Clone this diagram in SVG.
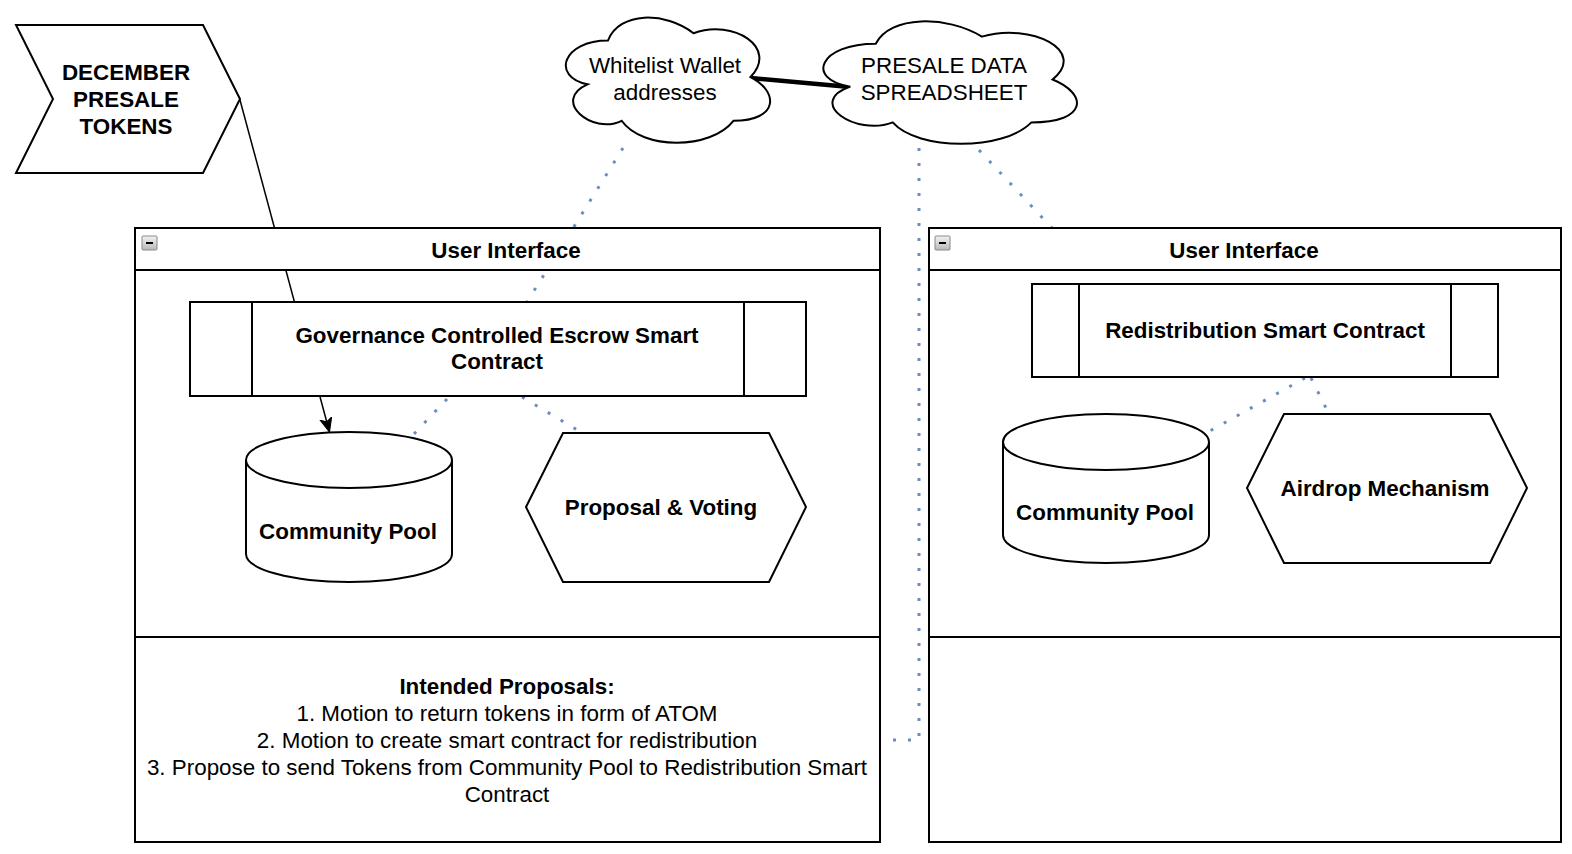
<svg xmlns="http://www.w3.org/2000/svg" width="1572" height="854" viewBox="0 0 1572 854">
  <style>
    .shape { fill: #ffffff; stroke: #000000; stroke-width: 2; }
    .frame { fill: none; stroke: #000000; stroke-width: 2; }
    .hdr { fill: #ffffff; stroke: #000000; stroke-width: 2; }
    .sep { stroke: #000000; stroke-width: 2; fill: none; }
    .t { font-family: "Liberation Sans", Arial, Helvetica, sans-serif; font-size: 22.4px; fill: #000000; text-anchor: middle; }
    .b { font-weight: bold; }
    .dot { fill: none; stroke: #6c8ebf; stroke-width: 3; stroke-dasharray: 3 12; }
    .arrow { fill: none; stroke: #000000; stroke-width: 1.5; }
    .thick { fill: none; stroke: #000000; stroke-width: 4.5; }
  </style>
  <defs>
    <marker id="classic" markerUnits="userSpaceOnUse" markerWidth="16" markerHeight="14" refX="14" refY="6" orient="auto">
      <path d="M0,0 L14,6 L0,12 L3.5,6 Z" fill="#000000" stroke="#000000" stroke-width="1"/>
    </marker>
    <linearGradient id="minusGrad" x1="0" y1="0" x2="0" y2="1">
      <stop offset="0" stop-color="#f2f2f2"/>
      <stop offset="1" stop-color="#b8b8b8"/>
    </linearGradient>
    <g id="minusIcon">
      <rect x="0" y="0" width="15" height="14" rx="1" fill="url(#minusGrad)" stroke="#8a8a8a" stroke-width="1"/>
      <line x1="4" y1="7" x2="11" y2="7" stroke="#000000" stroke-width="2"/>
    </g>
  </defs>

  <rect width="1572" height="854" fill="#ffffff"/>

  <!-- connectors -->
  <g id="connectors">
    <line class="arrow" x1="240" y1="100" x2="329.5" y2="432" marker-end="url(#classic)"/>
    <line class="thick" x1="751" y1="78" x2="850" y2="87"/>
    <line class="dot" x1="623" y1="148" x2="527" y2="302"/>
    <line class="dot" x1="447" y1="399" x2="412" y2="436"/>
    <line class="dot" x1="522" y1="397" x2="579" y2="431"/>
    <polyline class="dot" points="919,148 919,740 880,740"/>
    <line class="dot" x1="979" y1="150" x2="1052" y2="228"/>
    <line class="dot" x1="1305" y1="378" x2="1208" y2="432"/>
    <line class="dot" x1="1311" y1="378" x2="1329" y2="414"/>
  </g>

  <!-- December presale tokens -->
  <g id="december-presale">
    <polygon class="shape" points="16,25 203,25 240,99 203,173 16,173 53,99"/>
    <text class="t b" x="126" y="80">DECEMBER</text>
    <text class="t b" x="126" y="107">PRESALE</text>
    <text class="t b" x="126" y="134">TOKENS</text>
  </g>

  <!-- Whitelist cloud -->
  <g id="whitelist-cloud">
    <path class="shape" d="M608,40.5 C562.4,40.5 551,77 587.5,84.3 C551,100.4 592,135.4 621.7,120.8 C642.2,150 710.6,150 733.4,120.8 C779,120.8 779,91.6 750.5,77 C779,47.8 733.4,18.6 693.5,33.2 C665,11.3 619.4,11.3 608,40.5 Z"/>
    <text class="t" x="665" y="73">Whitelist Wallet</text>
    <text class="t" x="665" y="100">addresses</text>
  </g>

  <!-- Presale data cloud -->
  <g id="presale-data-cloud">
    <path class="shape" d="M875.75,43.75 C819.15,43.75 805,79.5 850.3,86.65 C805,102.4 855.9,136.7 892.7,122.4 C918.2,151 1003.1,151 1031.4,122.4 C1088,122.4 1088,93.8 1052.6,79.5 C1088,50.9 1031.4,22.3 981.9,36.6 C946.5,15.15 889.9,15.15 875.75,43.75 Z"/>
    <text class="t" x="944" y="73">PRESALE DATA</text>
    <text class="t" x="944" y="100">SPREADSHEET</text>
  </g>

  <!-- Left container -->
  <g id="left-user-interface">
    <rect class="frame" x="135" y="228" width="745" height="614"/>
    <rect class="hdr" x="135" y="228" width="745" height="42"/>
    <line class="sep" x1="135" y1="637" x2="880" y2="637"/>
    <use href="#minusIcon" x="142" y="236"/>
    <text class="t b" x="506" y="258">User Interface</text>
    <text class="t b" x="507" y="694">Intended Proposals:</text>
    <text class="t" x="507" y="721">1. Motion to return tokens in form of ATOM</text>
    <text class="t" x="507" y="748">2. Motion to create smart contract for redistribution</text>
    <text class="t" x="507" y="775">3. Propose to send Tokens from Community Pool to Redistribution Smart</text>
    <text class="t" x="507" y="802">Contract</text>
  </g>

  <g id="governance-escrow">
    <rect class="shape" x="190" y="302" width="616" height="94"/>
    <line class="sep" x1="252" y1="302" x2="252" y2="396"/>
    <line class="sep" x1="744" y1="302" x2="744" y2="396"/>
    <text class="t b" x="497" y="343">Governance Controlled Escrow Smart</text>
    <text class="t b" x="497" y="369">Contract</text>
  </g>

  <g id="left-community-pool">
    <path class="shape" d="M246,460 A103,28 0 0 1 452,460 L452,554 A103,28 0 0 1 246,554 Z"/>
    <path class="frame" d="M246,460 A103,28 0 0 0 452,460"/>
    <text class="t b" x="348" y="539">Community Pool</text>
  </g>

  <g id="proposal-voting">
    <polygon class="shape" points="526,507 563,433 769,433 806,507 769,582 563,582"/>
    <text class="t b" x="661" y="515">Proposal &amp; Voting</text>
  </g>

  <!-- Right container -->
  <g id="right-user-interface">
    <rect class="frame" x="929" y="228" width="632" height="614"/>
    <rect class="hdr" x="929" y="228" width="632" height="42"/>
    <line class="sep" x1="929" y1="637" x2="1561" y2="637"/>
    <use href="#minusIcon" x="935" y="236"/>
    <text class="t b" x="1244" y="258">User Interface</text>
  </g>

  <g id="redistribution-contract">
    <rect class="shape" x="1032" y="284" width="466" height="93"/>
    <line class="sep" x1="1079" y1="284" x2="1079" y2="377"/>
    <line class="sep" x1="1451" y1="284" x2="1451" y2="377"/>
    <text class="t b" x="1265" y="338">Redistribution Smart Contract</text>
  </g>

  <g id="right-community-pool">
    <path class="shape" d="M1003,442 A103,28 0 0 1 1209,442 L1209,535 A103,28 0 0 1 1003,535 Z"/>
    <path class="frame" d="M1003,442 A103,28 0 0 0 1209,442"/>
    <text class="t b" x="1105" y="520">Community Pool</text>
  </g>

  <g id="airdrop-mechanism">
    <polygon class="shape" points="1247,488 1284,414 1490,414 1527,488 1490,563 1284,563"/>
    <text class="t b" x="1385" y="496">Airdrop Mechanism</text>
  </g>
</svg>
